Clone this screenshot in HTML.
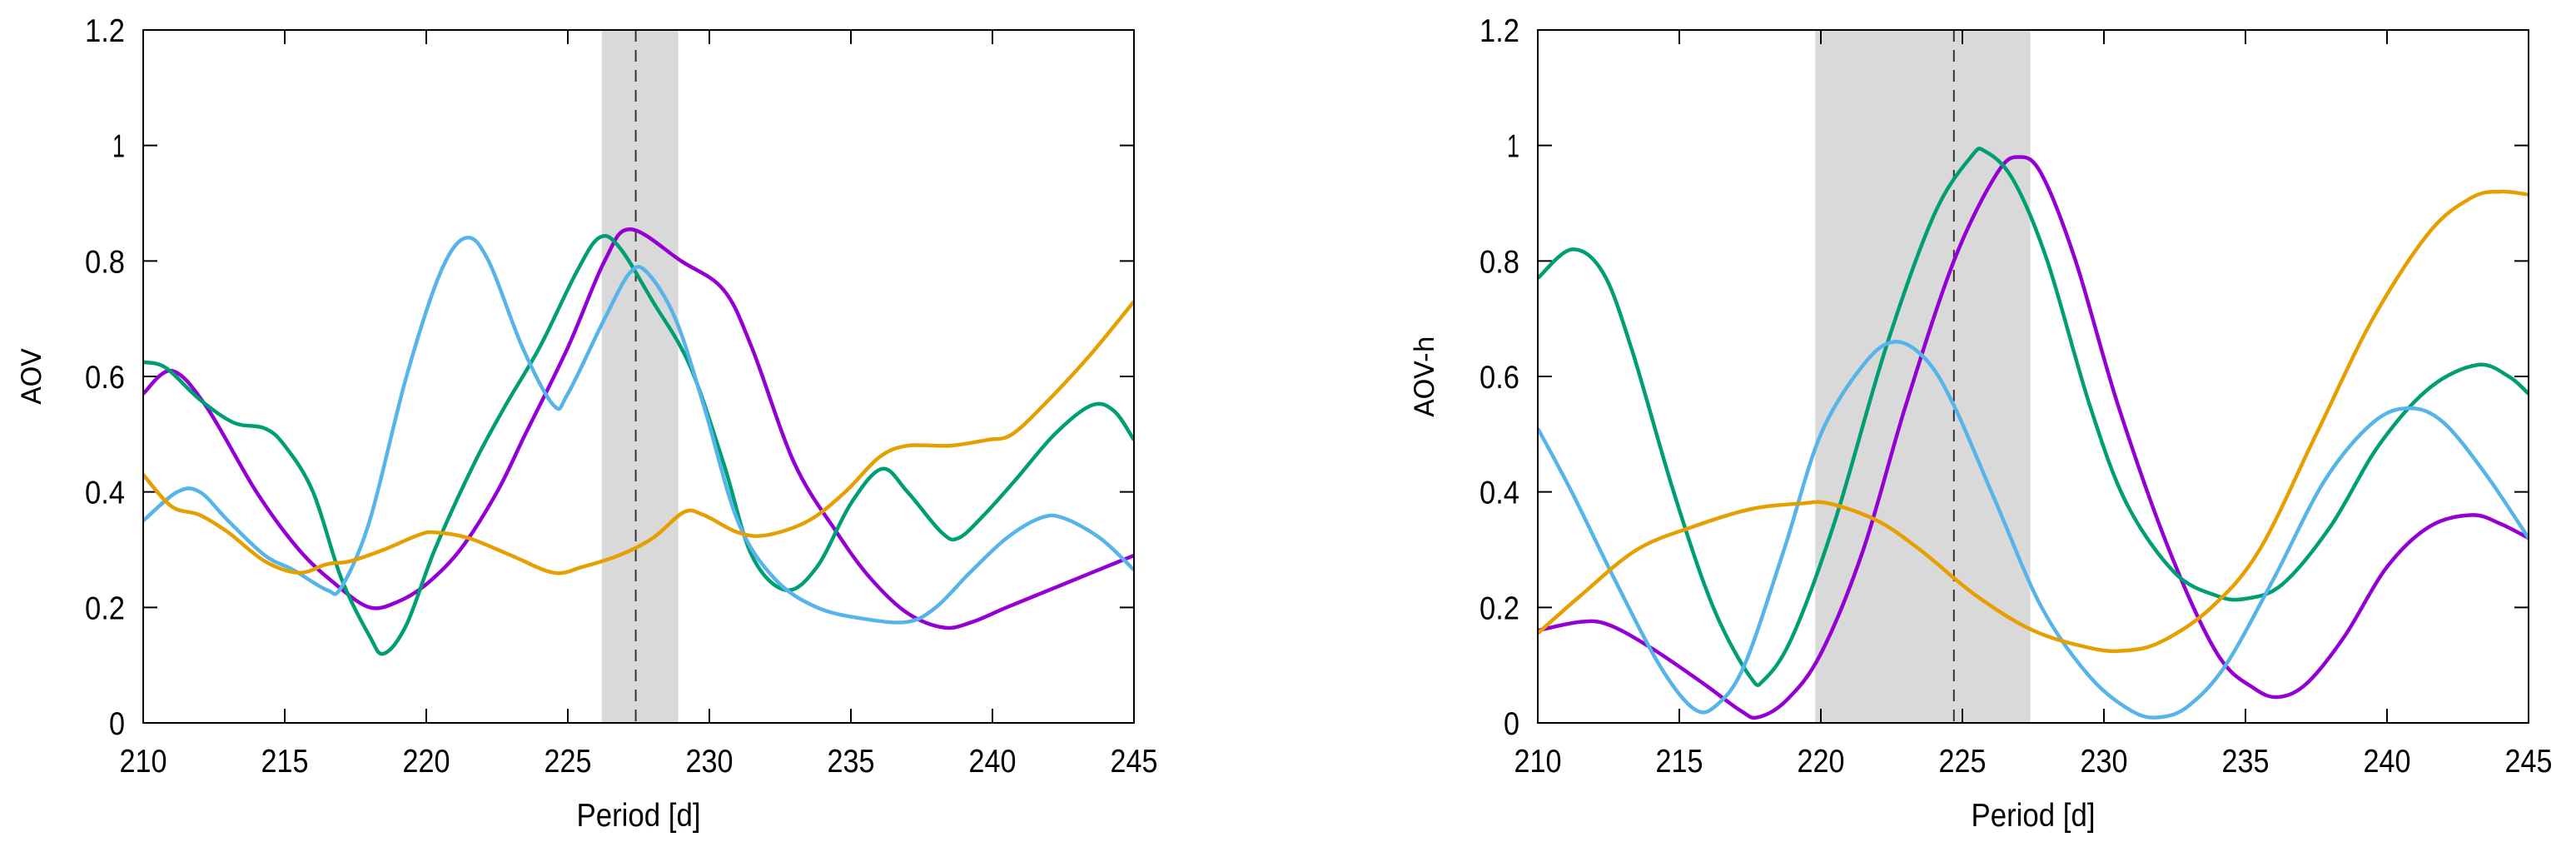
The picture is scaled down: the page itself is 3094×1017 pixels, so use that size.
<!DOCTYPE html>
<html><head><meta charset="utf-8"><style>
html,body{margin:0;padding:0;background:#fff;}
svg{display:block;font-family:"Liberation Sans",sans-serif;}
</style></head><body>
<svg id="c" width="3094" height="1017" viewBox="0 0 3094 1017" xmlns="http://www.w3.org/2000/svg"></svg>
<script>
// ---- shared axis data ----
const xTicks = [210,215,220,225,230,235,240,245];
const yTicks = [0,0.2,0.4,0.6,0.8,1,1.2];
const yTickLabels = ["0","0.2","0.4","0.6","0.8","1","1.2"];
const seriesNames = ["purple","green","blue","orange"];
const seriesColors = ["#9400d3","#009e73","#56b4e9","#e69f00"];

// ---- left panel (AOV) ----
const aovPurpleX = [210,211,212.2,214,215.5,216.8,218,219,220,221.2,222.5,223.5,225,226.3,227.2,229,230.5,231.5,233,234.5,235.7,237,238.3,239.3,240.5,242,243.5,245];
const aovPurpleY = [0.57,0.61,0.55,0.4,0.3,0.24,0.2,0.21,0.24,0.3,0.4,0.5,0.65,0.8,0.855,0.8,0.75,0.65,0.45,0.33,0.25,0.19,0.165,0.175,0.2,0.23,0.26,0.29];
const aovGreenX = [210,210.8,212,213.2,214.3,215,216,217,218,218.5,219.3,220.3,221.7,222.8,224,225.3,226.1,226.8,228,229.3,230.5,231.5,232.7,233.8,235,236.1,237,238.2,238.8,239.7,240.8,242.2,243.5,244.3,245];
const aovGreenY = [0.625,0.615,0.56,0.52,0.51,0.48,0.4,0.25,0.15,0.12,0.17,0.3,0.45,0.55,0.65,0.78,0.84,0.825,0.73,0.62,0.45,0.29,0.23,0.27,0.38,0.44,0.4,0.33,0.32,0.36,0.42,0.5,0.55,0.54,0.49];
const aovBlueX = [210,211.2,212,213,214.3,215.3,216.5,217,218,219.3,220.5,221.4,222.2,223.4,224.5,225,226.3,227.2,227.8,228.8,229.8,231,232.3,233.8,235.5,237,238,239.2,240.5,241.7,242.5,243.8,245];
const aovBlueY = [0.35,0.4,0.4,0.35,0.29,0.265,0.23,0.235,0.35,0.6,0.78,0.84,0.8,0.65,0.55,0.57,0.7,0.78,0.78,0.7,0.55,0.35,0.25,0.2,0.18,0.175,0.2,0.26,0.32,0.355,0.355,0.32,0.265];
const aovOrangeX = [210,211,212,213,214.3,215.5,216.5,217.3,218.5,219.7,220.3,221.5,223,224.5,225.5,226.8,228,229.1,229.8,231,232,233.5,234.8,236,237,238.5,239.8,240.7,242,243.5,245];
const aovOrangeY = [0.43,0.375,0.36,0.33,0.28,0.26,0.275,0.28,0.3,0.325,0.33,0.32,0.29,0.26,0.27,0.29,0.32,0.365,0.36,0.33,0.325,0.35,0.4,0.46,0.48,0.48,0.49,0.5,0.56,0.64,0.73];
const aovBand = [226.2,228.9];
const aovMarker = [227.4];

// ---- right panel (AOV-h) ----
const aovhGreenX = [210,211.2,212.3,213.3,214.8,216.2,217.5,218,219,220.5,222.3,224,225.3,225.8,226.8,228,229.5,230.8,232.5,234,235,236.3,238,239.7,241.5,243.2,244.3,245];
const aovhGreenY = [0.77,0.82,0.78,0.65,0.4,0.2,0.08,0.075,0.15,0.35,0.65,0.88,0.98,0.99,0.94,0.8,0.55,0.38,0.26,0.22,0.215,0.24,0.34,0.48,0.58,0.62,0.6,0.57];
const aovhPurpleX = [210,211.5,212.5,214,215.8,217.2,217.8,218.8,220,221.5,223,224.7,226.2,227,227.8,229,230.5,232.3,234,235.3,236.2,237.2,238.5,240,241.5,243,244,245];
const aovhPurpleY = [0.16,0.175,0.17,0.13,0.07,0.02,0.01,0.04,0.12,0.3,0.55,0.8,0.95,0.98,0.95,0.8,0.55,0.3,0.12,0.06,0.045,0.07,0.15,0.27,0.34,0.36,0.345,0.32];
const aovhBlueX = [210,211.2,212.7,214.3,215.5,216.3,217.3,218.7,220,221.5,222.6,223.7,224.7,226.2,227.8,229.5,231,232,233,234.3,236,237.8,239.5,240.8,242,243.5,245];
const aovhBlueY = [0.51,0.4,0.25,0.1,0.025,0.03,0.1,0.3,0.5,0.62,0.66,0.63,0.55,0.38,0.2,0.08,0.02,0.01,0.03,0.1,0.25,0.42,0.52,0.545,0.52,0.43,0.32];
const aovhOrangeX = [210,211.5,213.5,215.5,217.5,219.3,220.3,222,223.5,225.5,227.5,229.5,230.7,232,233.8,235.5,237.5,239.5,241.5,243,244,245];
const aovhOrangeY = [0.155,0.22,0.3,0.34,0.37,0.38,0.38,0.35,0.3,0.22,0.16,0.13,0.125,0.14,0.2,0.3,0.5,0.7,0.85,0.91,0.92,0.915];
const aovhBand = [219.8,227.4];
const aovhMarker = [224.7];

const NS = "http://www.w3.org/2000/svg";
const svg = document.getElementById("c");
function mk(tag, attrs, parent){
  const e = document.createElementNS(NS, tag);
  for (const k in attrs) e.setAttribute(k, attrs[k]);
  (parent||svg).appendChild(e);
  return e;
}
function smoothPath(pts){
  let d = "M"+pts[0][0].toFixed(1)+","+pts[0][1].toFixed(1);
  for (let i=0;i<pts.length-1;i++){
    const p0=pts[Math.max(0,i-1)], p1=pts[i], p2=pts[i+1], p3=pts[Math.min(pts.length-1,i+2)];
    const c1x=p1[0]+(p2[0]-p0[0])/6, c1y=p1[1]+(p2[1]-p0[1])/6;
    const c2x=p2[0]-(p3[0]-p1[0])/6, c2y=p2[1]-(p3[1]-p1[1])/6;
    d += " C"+c1x.toFixed(1)+","+c1y.toFixed(1)+" "+c2x.toFixed(1)+","+c2y.toFixed(1)+" "+p2[0].toFixed(1)+","+p2[1].toFixed(1);
  }
  return d;
}
const tickLabelWidths = {"0":19,"0.2":48,"0.4":48,"0.6":48,"0.8":48,"1":15,"1.2":48};

function drawPanel(cfg){
  const L=cfg.left, R=cfg.right, T=36, B=868;
  const xs = v => L + (v-210)/(245-210)*(R-L);
  const ys = v => B - (v-0)/(1.2-0)*(B-T);
  const g = mk("g", {});
  
  
  const clipId = cfg.name+"-clip";
  const cp = mk("clipPath",{id:clipId},g);
  mk("rect",{x:L,y:T,width:R-L,height:B-T},cp);
  const band = mk("rect",{x:xs(cfg.band[0]),y:T,width:xs(cfg.band[1])-xs(cfg.band[0]),height:B-T,fill:"#d9d9d9"},g);
  
  
  const mline = mk("line",{x1:xs(cfg.marker[0]),x2:xs(cfg.marker[0]),y1:T,y2:B,stroke:"#333",'stroke-width':2,'stroke-dasharray':"14,10"},g);
  
  
  xTicks.forEach(t=>{
    const x=xs(t);
    mk("line",{x1:x,x2:x,y1:B,y2:B-17,stroke:"#000",'stroke-width':2},g);
    mk("line",{x1:x,x2:x,y1:T,y2:T+17,stroke:"#000",'stroke-width':2},g);
    const tx = mk("text",{x:x,y:927,'text-anchor':"middle",'font-size':39,textLength:57,lengthAdjust:"spacingAndGlyphs",fill:"#000"},g);
    tx.textContent = String(t);
    
    
  });
  yTicks.forEach((t,i)=>{
    const y=ys(t);
    mk("line",{x1:L,x2:L+17,y1:y,y2:y,stroke:"#000",'stroke-width':2},g);
    mk("line",{x1:R,x2:R-17,y1:y,y2:y,stroke:"#000",'stroke-width':2},g);
    const lab = yTickLabels[i];
    const ty = mk("text",{x:L-22,y:y+14,'text-anchor':"end",'font-size':39,textLength:tickLabelWidths[lab],lengthAdjust:"spacingAndGlyphs",fill:"#000"},g);
    ty.textContent = lab;
    
    
  });
  cfg.series.forEach((s,i)=>{
    const pts = s[0].map((x,j)=>[xs(x),ys(s[1][j])]);
    const p = mk("path",{d:smoothPath(pts),fill:"none",stroke:seriesColors[i],'stroke-width':4.5,'stroke-linejoin':"round",'clip-path':"url(#"+clipId+")"},g);
    
    
  });
  const frame = mk("rect",{x:L,y:T,width:R-L,height:B-T,fill:"none",stroke:"#000",'stroke-width':2},g);
  
  
  const xl = mk("text",{x:(L+R)/2,y:992,'text-anchor':"middle",'font-size':39,textLength:149,lengthAdjust:"spacingAndGlyphs",fill:"#000"},g);
  xl.textContent = "Period [d]";
  
  
  const yl = mk("text",{x:0,y:0,'text-anchor':"middle",'font-size':32,fill:"#000",transform:"translate("+(cfg.ylabelX)+","+cfg.ylabelY+") rotate(-90)",'font-family':"DejaVu Sans, sans-serif"},g);
  yl.textContent = cfg.ylabel;
  
  
}

drawPanel({name:"aov-panel",left:172,right:1362,band:aovBand,marker:aovMarker,ylabel:"AOV",ylabelX:49,ylabelY:452,
  series:[[aovPurpleX,aovPurpleY],[aovGreenX,aovGreenY],[aovBlueX,aovBlueY],[aovOrangeX,aovOrangeY]]});
drawPanel({name:"aov-h-panel",left:1847,right:3037,band:aovhBand,marker:aovhMarker,ylabel:"AOV-h",ylabelX:1722,ylabelY:452,
  series:[[aovhPurpleX,aovhPurpleY],[aovhGreenX,aovhGreenY],[aovhBlueX,aovhBlueY],[aovhOrangeX,aovhOrangeY]]});
</script>
</body></html>
